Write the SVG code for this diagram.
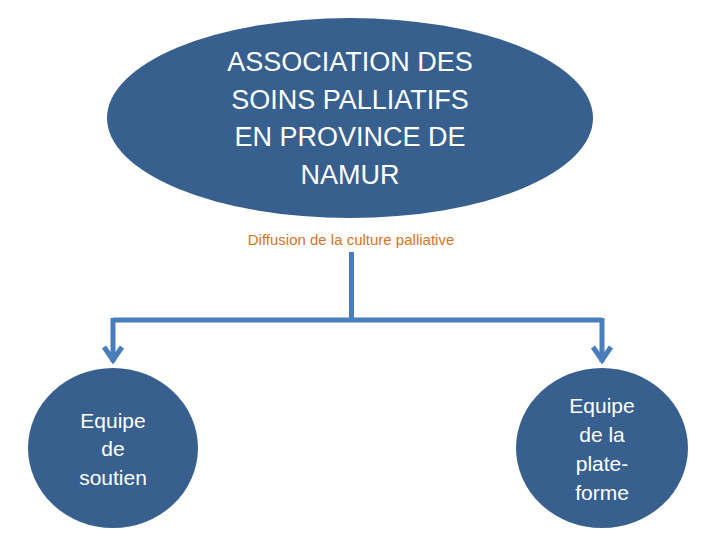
<svg xmlns="http://www.w3.org/2000/svg" width="720" height="540" viewBox="0 0 720 540">
<style>
.n{fill:#37608f}
.t{font-family:"Liberation Sans",Arial,sans-serif;fill:#fff;text-anchor:middle}
.c{fill:none;stroke:#4a7dbb;stroke-width:5}
</style>
<rect width="720" height="540" fill="#fff"/>
<g id="top"><ellipse class="n" cx="350" cy="118" rx="243" ry="100"/>
<text class="t" font-size="27"><tspan x="350" y="71">ASSOCIATION DES</tspan><tspan x="350" y="109">SOINS PALLIATIFS</tspan><tspan x="350" y="146">EN PROVINCE DE</tspan><tspan x="350" y="184">NAMUR</tspan></text></g>
<g id="label"><text x="351" y="245" font-family="Liberation Sans,Arial,sans-serif" font-size="15" fill="#d9731f" text-anchor="middle">Diffusion de la culture palliative</text></g>
<g id="connectors">
<path class="c" d="M351.5 252V320M113 320H602M113 318V362M602 318V362"/>
<path class="c" d="M104 347L113 360L122 347M593 347L602 360L611 347"/>
</g>
<g id="left"><ellipse class="n" cx="113" cy="448" rx="85" ry="80"/>
<text class="t" font-size="21"><tspan x="113" y="428">Equipe</tspan><tspan x="113" y="456">de</tspan><tspan x="113" y="485">soutien</tspan></text></g>
<g id="right"><ellipse class="n" cx="602" cy="448" rx="86" ry="80"/>
<text class="t" font-size="21"><tspan x="602" y="413">Equipe</tspan><tspan x="602" y="442">de la</tspan><tspan x="602" y="471">plate-</tspan><tspan x="602" y="500">forme</tspan></text></g>
</svg>
